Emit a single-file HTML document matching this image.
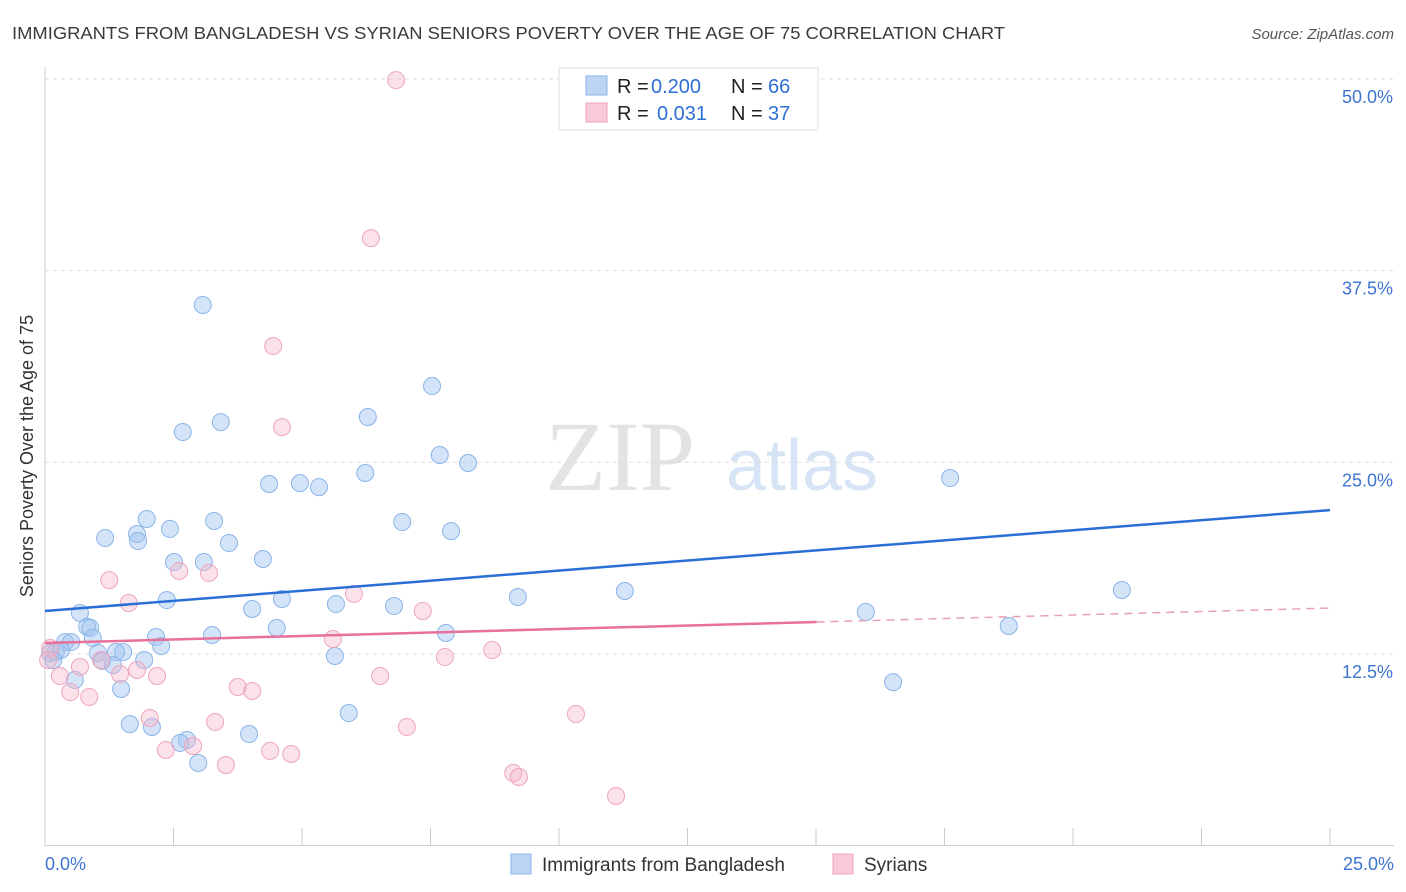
<!DOCTYPE html>
<html><head><meta charset="utf-8"><style>
body{margin:0;background:#fff;font-family:"Liberation Sans",sans-serif;}
svg{display:block}
</style></head><body>
<svg id="chart" width="1406" height="892">
<text x="12" y="39" font-size="17.5" fill="#3a3a3a" textLength="993" lengthAdjust="spacingAndGlyphs">IMMIGRANTS FROM BANGLADESH VS SYRIAN SENIORS POVERTY OVER THE AGE OF 75 CORRELATION CHART</text>
<text x="1394" y="39" font-size="15" fill="#555" font-style="italic" text-anchor="end">Source: ZipAtlas.com</text>
<text x="620" y="490" font-size="100" fill="#e3e3e3" font-family="Liberation Serif,serif" text-anchor="middle">ZIP</text>
<text x="802" y="490" font-size="72" fill="#d6e4f5" text-anchor="middle">atlas</text>
<text transform="translate(33,456) rotate(-90)" font-size="18" fill="#333" text-anchor="middle">Seniors Poverty Over the Age of 75</text>
<g id="grid"></g><g id="marks"></g>
<g>
<rect x="559" y="68" width="259" height="62" fill="#fff" stroke="#ddd"/>
<rect x="586" y="76" width="21" height="19" fill="#bcd5f5" stroke="#8ab4e8"/>
<rect x="586" y="103" width="21" height="19" fill="#f9cad8" stroke="#eea4bd"/>
<text x="617" y="93" font-size="20" fill="#222">R =</text>
<text x="651" y="93" font-size="20" fill="#2e6fd6">0.200</text>
<text x="731" y="93" font-size="20" fill="#222">N =</text>
<text x="768" y="93" font-size="20" fill="#2e6fd6">66</text>
<text x="617" y="120" font-size="20" fill="#222">R =</text>
<text x="657" y="120" font-size="20" fill="#2e6fd6">0.031</text>
<text x="731" y="120" font-size="20" fill="#222">N =</text>
<text x="768" y="120" font-size="20" fill="#2e6fd6">37</text>
</g>
<g>
<rect x="511" y="854" width="20" height="20" fill="#bcd5f5" stroke="#8ab4e8"/>
<text x="542" y="871" font-size="19" fill="#333">Immigrants from Bangladesh</text>
<rect x="833" y="854" width="20" height="20" fill="#f9cad8" stroke="#eea4bd"/>
<text x="864" y="871" font-size="19" fill="#333">Syrians</text>
</g>
</svg>
<script>
const yTicks=[12.5,25,37.5,50];
const yTickLabels=["12.5%","25.0%","37.5%","50.0%"];
const xTickLabels=["0.0%","25.0%"];
const blueX=[3.07,7.53,3.42,2.68,6.28,7.68,8.23,6.23,4.36,4.96,5.33,17.61,1.98,3.29,6.95,2.43,7.90,1.79,1.81,1.17,3.58,2.51,3.09,4.24,2.37,4.61,4.03,5.66,6.79,9.20,11.28,20.95,15.97,0.68,0.82,0.88,4.51,7.80,18.75,3.25,2.16,0.93,0.39,0.51,2.26,0.10,0.21,0.31,1.03,1.52,1.38,5.64,1.93,1.11,1.32,0.16,0.58,1.48,16.50,5.91,1.65,2.08,3.97,2.76,2.63,2.98];
const blueY=[35.26,29.97,27.62,26.97,27.95,25.47,24.95,24.30,23.58,23.64,23.38,23.97,21.30,21.17,21.10,20.65,20.51,20.32,19.86,20.06,19.73,18.49,18.49,18.69,16.01,16.08,15.43,15.75,15.62,16.21,16.60,16.67,15.23,15.17,14.26,14.19,14.19,13.86,14.32,13.73,13.60,13.54,13.27,13.27,13.01,12.56,12.62,12.75,12.56,12.62,12.62,12.36,12.10,12.04,11.77,12.10,10.80,10.21,10.66,8.64,7.92,7.73,7.27,6.88,6.69,5.38];
const pinkX=[6.83,6.34,4.44,4.61,1.25,2.61,3.19,1.63,6.01,7.35,5.60,8.70,7.78,0.10,0.06,0.68,1.09,1.79,2.18,1.46,6.52,0.29,0.49,0.86,3.75,4.03,2.04,3.31,7.04,10.33,2.88,2.35,4.38,4.79,3.52,9.11,9.22,11.11];
const pinkY=[49.93,39.62,32.58,27.29,17.31,17.91,17.78,15.82,16.41,15.30,13.47,12.75,12.30,12.88,12.10,11.65,12.10,11.45,11.06,11.19,11.06,11.06,10.01,9.69,10.34,10.08,8.32,8.06,7.73,8.58,6.49,6.23,6.17,5.97,5.25,4.73,4.47,3.23];
const blueTrend=[15.30,21.88];
const pinkTrend=[13.21,15.49];
const pinkSolidEnd=15.01;
const NS="http://www.w3.org/2000/svg";
const X=v=>45+v/25*1285, Y=v=>845.5-v/50*766.5;
function mk(t,a,p){const e=document.createElementNS(NS,t);for(const k in a)e.setAttribute(k,a[k]);p.appendChild(e);return e;}
const g=document.getElementById('grid'), m=document.getElementById('marks');
yTicks.forEach((t,i)=>{
 const l=mk('line',{x1:45,x2:1394,y1:Y(t),y2:Y(t),stroke:'#ddd','stroke-dasharray':'4,4'},g);
 
 
 const tx=mk('text',{x:1393,y:Y(t)+24,'font-size':18,fill:'#3d74d0','text-anchor':'end'},g);tx.textContent=yTickLabels[i];
 
 
});
mk('line',{x1:45,x2:45,y1:67,y2:846,stroke:'#ccc'},g);
mk('line',{x1:45,x2:1394,y1:845.5,y2:845.5,stroke:'#ccc'},g);
for(let i=0;i<=10;i++){const x=X(i*2.5);mk('line',{x1:x,x2:x,y1:828,y2:846,stroke:'#ccc'},g);}
[[0,'start',45],[25,'end',1394]].forEach((d,i)=>{const tx=mk('text',{x:d[2],y:870,'font-size':18,fill:'#3d74d0','text-anchor':d[1]},g);tx.textContent=xTickLabels[i];
 
 });
blueX.forEach((v,i)=>{const c=mk('circle',{cx:X(v),cy:Y(blueY[i]),r:8.5,fill:'rgba(160,195,240,0.45)',stroke:'#8ab4e8','stroke-width':1},m);
 
 });
pinkX.forEach((v,i)=>{const c=mk('circle',{cx:X(v),cy:Y(pinkY[i]),r:8.5,fill:'rgba(245,180,200,0.4)',stroke:'#eea4bd','stroke-width':1},m);
 
 });
let l=mk('line',{x1:X(0),y1:Y(blueTrend[0]),x2:X(25),y2:Y(blueTrend[1]),stroke:'#2a6fd6','stroke-width':2.5},m);


const py=v=>pinkTrend[0]+(pinkTrend[1]-pinkTrend[0])*v/25;
l=mk('line',{x1:X(0),y1:Y(py(0)),x2:X(pinkSolidEnd),y2:Y(py(pinkSolidEnd)),stroke:'#e8709a','stroke-width':2.5},m);


l=mk('line',{x1:X(pinkSolidEnd),y1:Y(py(pinkSolidEnd)),x2:X(25),y2:Y(py(25)),stroke:'#e8a0b8','stroke-width':1.5,'stroke-dasharray':'8,6'},m);


</script>
</body></html>
